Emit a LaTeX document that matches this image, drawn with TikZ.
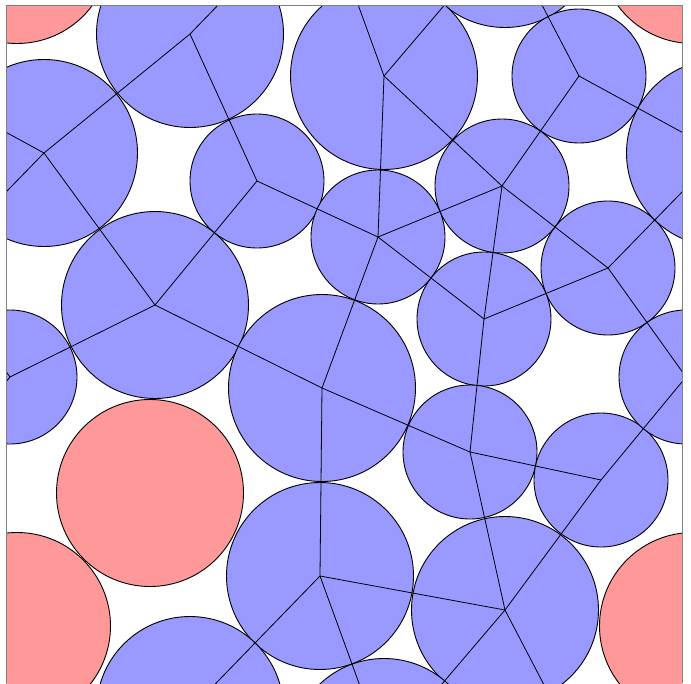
\documentclass[tikz,border=0pt]{standalone}
\usetikzlibrary{calc}
\definecolor{grainblue}{RGB}{153,153,255}
\definecolor{rattlerred}{RGB}{255,153,153}
\definecolor{framegray}{RGB}{128,128,128}
\tikzset{
  grain/.style={draw=black,fill=grainblue,line width=0.9pt},
  rattler/.style={draw=black,fill=rattlerred,line width=0.9pt},
  bond/.style={draw=black,line width=0.8pt},
  boxline/.style={draw=framegray,line width=0.8pt}
}
\newcommand{\rsmall}{67}
\newcommand{\rlarge}{93.5}

\begin{document}
\begin{tikzpicture}[x=1pt,y=-1pt]
  \useasboundingbox (0,0) rectangle (691,683);
  % grain centres (pixel coordinates, y downwards)
  \coordinate (A) at (190,34);
  \coordinate (B) at (384,76);
  \coordinate (C) at (579,76);
  \coordinate (D) at (44,153);
  \coordinate (E) at (257,181);
  \coordinate (F) at (502,186);
  \coordinate (G) at (378,237);
  \coordinate (H) at (155,305);
  \coordinate (I) at (608,268);
  \coordinate (J) at (484,319);
  \coordinate (K) at (10,377);
  \coordinate (L) at (322,388);
  \coordinate (M) at (470,452);
  \coordinate (N) at (601,480);
  \coordinate (O) at (320,576);
  \coordinate (P) at (505,610);
  % rattlers
  \coordinate (Q) at (150,493);
  \coordinate (R) at (17,626);

  \begin{scope}
    \clip (6,5) rectangle (682,683);
    % periodic images of the grains
    \foreach \dx in {-676,0,676}{
      \foreach \dy in {-676,0,676}{
        \foreach \gname/\grad in {A/\rlarge,B/\rlarge,C/\rsmall,D/\rlarge,E/\rsmall,F/\rsmall,
            G/\rsmall,H/\rlarge,I/\rsmall,J/\rsmall,K/\rsmall,L/\rlarge,M/\rsmall,N/\rsmall,
            O/\rlarge,P/\rlarge}
          \draw[grain] ($(\gname)+(\dx,\dy)$) circle[radius=\grad];
        \foreach \gname in {Q,R}
          \draw[rattler] ($(\gname)+(\dx,\dy)$) circle[radius=\rlarge];
      }
    }
    % contact network
    \foreach \dx in {-676,0,676}{
      \foreach \dy in {-676,0,676}{
        \foreach \u/\v/\sx/\sy in {A/D/0/0,A/E/0/0,B/G/0/0,B/F/0/0,C/F/0/0,D/H/0/0,E/H/0/0,
            E/G/0/0,F/G/0/0,F/J/0/0,F/I/0/0,G/L/0/0,G/J/0/0,H/K/0/0,H/L/0/0,I/J/0/0,
            J/M/0/0,L/M/0/0,L/O/0/0,M/N/0/0,M/P/0/0,N/P/0/0,O/P/0/0,
            A/O/0/-676,B/O/0/-676,B/P/0/-676,C/P/0/-676,C/D/676/0,D/I/-676/0,
            I/K/676/0,K/N/-676/0}
          \draw[bond] ($(\u)+(\dx,\dy)$) -- ($(\v)+(\dx+\sx,\dy+\sy)$);
      }
    }
  \end{scope}
  \draw[boxline] (6,683) -- (6,5) -- (682,5) -- (682,683);
\end{tikzpicture}
\end{document}
